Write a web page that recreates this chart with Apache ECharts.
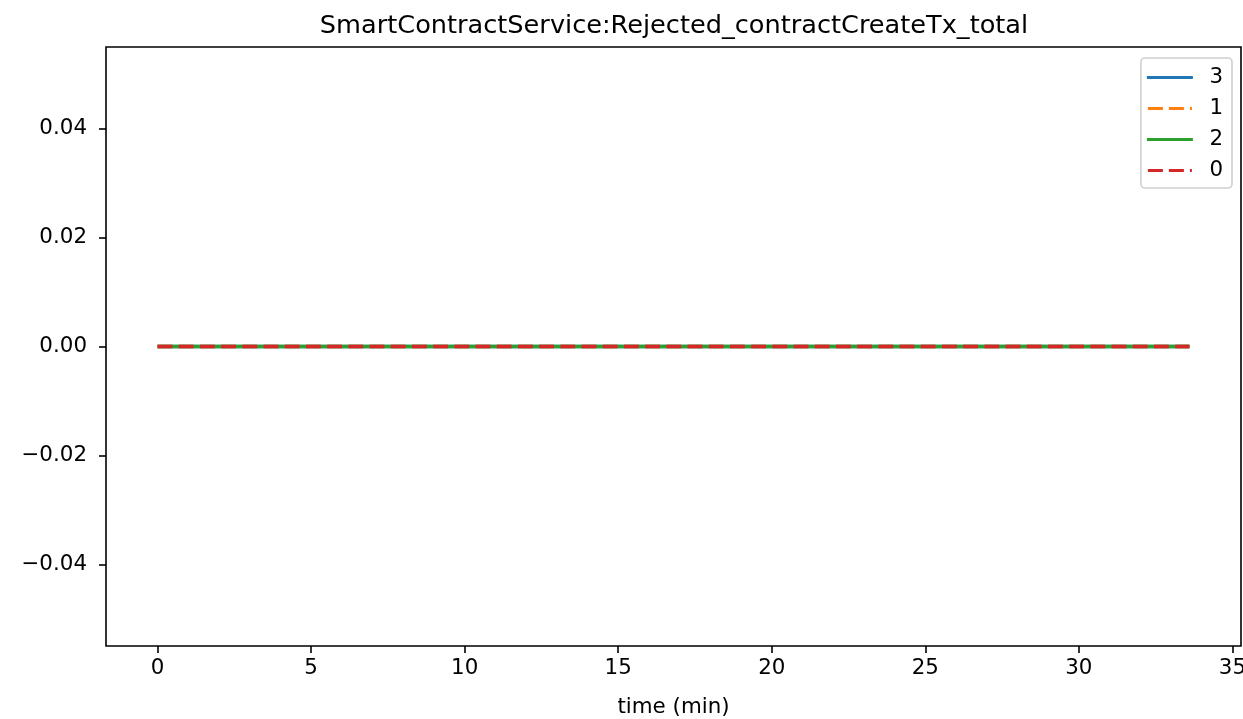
<!DOCTYPE html>
<html>
<head>
<meta charset="utf-8">
<script src="https://cdn.jsdelivr.net/npm/echarts@6/dist/echarts.min.js"></script>
<style>
html,body{margin:0;padding:0;background:#fff;overflow:hidden;}
#chart{width:1243px;height:719px;}
</style>
</head>
<body>
<div id="chart"></div>
<script>
const titleText = 'SmartContractService:Rejected_contractCreateTx_total';
const times = [0, 1, 2, 3, 4, 5, 6, 7, 8, 9, 10, 11, 12, 13, 14, 15, 16, 17, 18, 19, 20, 21, 22, 23, 24, 25, 26, 27, 28, 29, 30, 31, 32, 33, 33.6];
const series3 = [0,0,0,0,0,0,0,0,0,0,0,0,0,0,0,0,0,0,0,0,0,0,0,0,0,0,0,0,0,0,0,0,0,0,0];
const series1 = [0,0,0,0,0,0,0,0,0,0,0,0,0,0,0,0,0,0,0,0,0,0,0,0,0,0,0,0,0,0,0,0,0,0,0];
const series2 = [0,0,0,0,0,0,0,0,0,0,0,0,0,0,0,0,0,0,0,0,0,0,0,0,0,0,0,0,0,0,0,0,0,0,0];
const series0 = [0,0,0,0,0,0,0,0,0,0,0,0,0,0,0,0,0,0,0,0,0,0,0,0,0,0,0,0,0,0,0,0,0,0,0];
const xTicks = [0, 5, 10, 15, 20, 25, 30, 35];
const yTicks = [-0.04, -0.02, 0, 0.02, 0.04];
const seriesNames = ['3', '1', '2', '0'];
const seriesColors = ['#1f77b4', '#ff7f0e', '#2ca02c', '#d62728'];
const seriesDashed = [false, true, false, true];
const seriesData = [series3, series1, series2, series0];

const font = 'DejaVu Sans';
const solidIcon = 'path://M0,0h46v3h-46z';
const dashIcon = 'path://M0,0h15v3h-15z M21,0h15v3h-15z M42,0h2v3h-2z';

const chart = echarts.init(document.getElementById('chart'));
const option = {
  animation: false,
  backgroundColor: '#fff',
  title: {
    text: titleText, left: 669, top: 8, textAlign: 'center',
    textStyle: {fontFamily: font, fontSize: 25.6, fontWeight: 'normal', color: '#000'}
  },
  grid: {left: 106, right: 2, top: 47, bottom: 73, show: true, borderColor: '#000', borderWidth: 1.6,
    backgroundColor: 'transparent', containLabel: false, outerBoundsMode: 'none'},
  legend: {
    right: 11, top: 58, orient: 'vertical',
    data: seriesNames.map((n, i) => ({name: n, icon: seriesDashed[i] ? dashIcon : solidIcon})),
    itemWidth: 47, itemHeight: 3, itemGap: 10,
    padding: [9, 9, 7, 6],
    borderColor: '#d0d0d0', borderWidth: 1.6, borderRadius: 4,
    backgroundColor: 'rgba(255,255,255,0.8)',
    textStyle: {fontFamily: font, fontSize: 21.4, color: '#000', padding: [0, 0, 0, 11]}
  },
  xAxis: {
    type: 'value', min: -1.68, max: 35.28,
    name: 'time (min)', nameLocation: 'middle', nameGap: 51,
    nameTextStyle: {fontFamily: font, fontSize: 21.4, color: '#000'},
    axisLine: {show: false, onZero: false},
    splitLine: {show: false},
    axisTick: {show: true, length: 7, inside: false, lineStyle: {color: '#000', width: 1.6}, customValues: xTicks},
    axisLabel: {fontFamily: font, fontSize: 21.4, color: '#000', margin: 12, customValues: xTicks, formatter: v => String(v)}
  },
  yAxis: {
    type: 'value', min: -0.055, max: 0.055,
    axisLine: {show: false, onZero: false},
    splitLine: {show: false},
    axisTick: {show: true, length: 7, inside: false, lineStyle: {color: '#000', width: 1.6}, customValues: yTicks},
    axisLabel: {fontFamily: font, fontSize: 21.4, color: '#000', margin: 19, customValues: yTicks,
      formatter: v => (v < 0 ? '\u2212' : '') + Math.abs(v).toFixed(2)}
  },
  series: seriesNames.map((n, i) => ({
    name: n, type: 'line', showSymbol: false, symbol: 'none',
    data: times.map((t, j) => [t, seriesData[i][j]]),
    lineStyle: {color: seriesColors[i], width: 3.5, type: seriesDashed[i] ? [14.8, 6.4] : 'solid'},
    itemStyle: {color: seriesColors[i]},
    z: 2 + i
  }))
};
chart.setOption(option);
</script>
</body>
</html>
